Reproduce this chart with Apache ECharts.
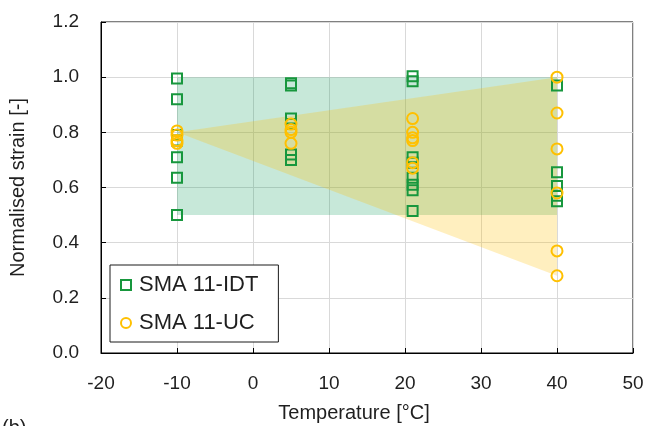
<!DOCTYPE html>
<html>
<head>
<meta charset="utf-8">
<script src="https://cdn.jsdelivr.net/npm/echarts@6/dist/echarts.min.js"></script>
<style>
  html, body { margin: 0; padding: 0; background: #fff; }
  #chart { width: 660px; height: 426px; }
</style>
</head>
<body>
<div id="chart"></div>
<script>
// Measured normalised strain per test temperature
const idtTemps  = [-10, -10, -10, -10, -10, -10, -10, 5, 5, 5, 5, 5, 5, 21, 21, 21, 21, 21, 21, 21, 21, 40, 40, 40, 40, 40];
const idtStrain = [0.995, 0.92, 0.79, 0.77, 0.71, 0.635, 0.50, 0.978, 0.97, 0.85, 0.83, 0.72, 0.70, 1.003, 0.985, 0.71, 0.69, 0.635, 0.61, 0.59, 0.515, 0.97, 0.655, 0.605, 0.57, 0.55];

const ucTemps  = [-10, -10, -10, -10, 5, 5, 5, 5, 21, 21, 21, 21, 21, 21, 40, 40, 40, 40, 40, 40];
const ucStrain = [0.805, 0.79, 0.77, 0.76, 0.83, 0.81, 0.80, 0.76, 0.85, 0.80, 0.78, 0.77, 0.69, 0.67, 1.00, 0.87, 0.74, 0.58, 0.37, 0.28];

// Shaded envelopes: [temperature, strain] corners
const idtBand = [[-10, 0.5], [40, 0.5], [40, 1.0], [-10, 1.0]];
const ucWedge = [[-10, 0.8], [40, 1.0], [40, 0.28]];

const xTicks = { min: -20, max: 50, step: 10 };
const yTicks = { min: 0, max: 1.2, step: 0.2 };

const GREEN = '#17973d';
const ORANGE = '#ffc000';
const TEXT = '#1f1f1f';
const FONT = 'Liberation Sans, Arial, sans-serif';

function polygonSeries(points, fill, z) {
  return {
    type: 'custom',
    silent: true,
    z: z,
    data: [0],
    renderItem: function (params, api) {
      const pts = points.map(p => api.coord(p));
      return { type: 'polygon', shape: { points: pts }, style: { fill: fill } };
    }
  };
}

const chart = echarts.init(document.getElementById('chart'), null, { renderer: 'canvas' });
chart.setOption({
  animation: false,
  textStyle: { fontFamily: FONT },
  grid: {
    left: 101, right: 27, top: 22, bottom: 73,
    outerBoundsMode: 'none',
    show: true, borderColor: '#000', borderWidth: 1, backgroundColor: 'transparent'
  },
  xAxis: {
    type: 'value',
    min: xTicks.min, max: xTicks.max, interval: xTicks.step,
    name: 'Temperature [°C]',
    nameLocation: 'middle', nameGap: 50,
    nameTextStyle: { fontSize: 20, color: TEXT, fontFamily: FONT, padding: [0, 26, 0, 0] },
    axisLine: { show: true, onZero: false, lineStyle: { color: '#000', width: 1 } },
    axisTick: { show: true, inside: true, length: 5, lineStyle: { color: '#000' } },
    axisLabel: { fontSize: 19, color: TEXT, margin: 21, fontFamily: FONT },
    splitLine: { show: true, lineStyle: { color: '#d9d9d9', width: 1 } }
  },
  yAxis: {
    type: 'value',
    min: yTicks.min, max: yTicks.max, interval: yTicks.step,
    name: 'Normalised strain [-]',
    nameLocation: 'middle', nameGap: 73,
    nameTextStyle: { fontSize: 20, color: TEXT, fontFamily: FONT },
    axisLine: { show: true, onZero: false, lineStyle: { color: '#000', width: 1 } },
    axisTick: { show: true, inside: true, length: 5, lineStyle: { color: '#000' } },
    axisLabel: { fontSize: 19, color: TEXT, margin: 22, fontFamily: FONT,
                 formatter: v => v.toFixed(1) },
    splitLine: { show: true, lineStyle: { color: '#d9d9d9', width: 1 } }
  },
  legend: {
    orient: 'vertical',
    left: 110, top: 265,
    padding: [9, 20, 8, 10],
    itemGap: 16,
    itemWidth: 10, itemHeight: 10,
    backgroundColor: '#fff',
    borderColor: '#1a1a1a', borderWidth: 1, borderRadius: 0,
    textStyle: { fontSize: 22, color: TEXT, fontFamily: FONT, padding: [0, 0, 0, 3] },
    data: [
      { name: 'SMA 11-IDT', icon: 'rect',
        itemStyle: { color: '#fff', borderColor: GREEN, borderWidth: 2 } },
      { name: 'SMA 11-UC', icon: 'circle',
        itemStyle: { color: '#fff', borderColor: ORANGE, borderWidth: 2 } }
    ]
  },
  graphic: [
    { type: 'text', left: 2, top: 418,
      style: { text: '(b)', fontSize: 20, fill: TEXT, fontFamily: FONT } }
  ],
  series: [
    polygonSeries(idtBand, 'rgba(0,150,80,0.22)', 1),
    polygonSeries(ucWedge, 'rgba(255,192,0,0.25)', 2),
    {
      name: 'SMA 11-IDT',
      type: 'scatter',
      z: 5,
      symbol: 'rect',
      symbolSize: 10,
      itemStyle: { color: 'rgba(255,255,255,0)', borderColor: GREEN, borderWidth: 2, opacity: 1 },
      data: idtTemps.map((t, i) => [t, idtStrain[i]])
    },
    {
      name: 'SMA 11-UC',
      type: 'scatter',
      z: 6,
      symbol: 'circle',
      symbolSize: 11,
      itemStyle: { color: 'rgba(255,255,255,0)', borderColor: ORANGE, borderWidth: 2, opacity: 1 },
      data: ucTemps.map((t, i) => [t, ucStrain[i]])
    }
  ]
});
</script>
</body>
</html>
